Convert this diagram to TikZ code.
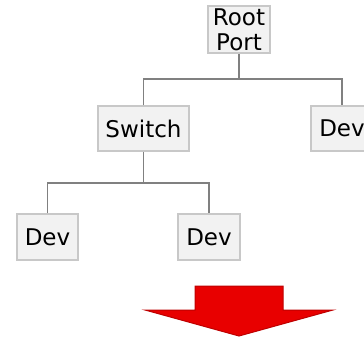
\documentclass[tikz,border=0pt]{standalone}
\usepackage{fontspec}
\setmainfont{DejaVu Sans}
\begin{document}
\begin{tikzpicture}[x=1pt,y=-1pt,
  box/.style={draw=boxline,fill=boxfill,line width=1.5pt,inner sep=0pt,
    font=\fontsize{23}{25}\selectfont,align=center,text=black},
  link/.style={draw=linkgray,line width=1.3pt}]
\definecolor{boxfill}{RGB}{242,242,242}
\definecolor{boxline}{RGB}{200,200,200}
\definecolor{linkgray}{RGB}{128,128,128}
\definecolor{arrowred}{RGB}{232,0,0}
\definecolor{arrowedge}{RGB}{190,0,0}
\useasboundingbox (0,0) rectangle (364,340);
\clip (0,0) rectangle (364,340);

% tree nodes
\node[box,minimum width=62pt,minimum height=47pt] (root) at (239,29.5) {Root\\Port};
\node[box,minimum width=91pt,minimum height=45pt] (switch) at (143.5,128.5) {Switch};
\node[box,minimum width=62pt,minimum height=45pt] (devR) at (342,128.5) {Dev};
\node[box,minimum width=61pt,minimum height=46pt] (devA) at (47.5,237) {Dev};
\node[box,minimum width=62pt,minimum height=46pt] (devB) at (209,237) {Dev};

% bus junctions
\coordinate (busTop) at (239,79);
\coordinate (busSw) at (143.5,183);

% connectors
\draw[link] (root.south) -- (busTop);
\draw[link] (switch.north) |- (busTop) -| (devR.north);
\draw[link] (switch.south) -- (busSw);
\draw[link] (devA.north) |- (busSw) -| (devB.north);

% big downward arrow
\draw[fill=arrowred,draw=arrowedge,line width=1pt,line join=miter]
  (195,286) -- (283,286) -- (283,310) -- (333,310) -- (239,336)
  -- (145,310) -- (195,310) -- cycle;
\end{tikzpicture}
\end{document}
